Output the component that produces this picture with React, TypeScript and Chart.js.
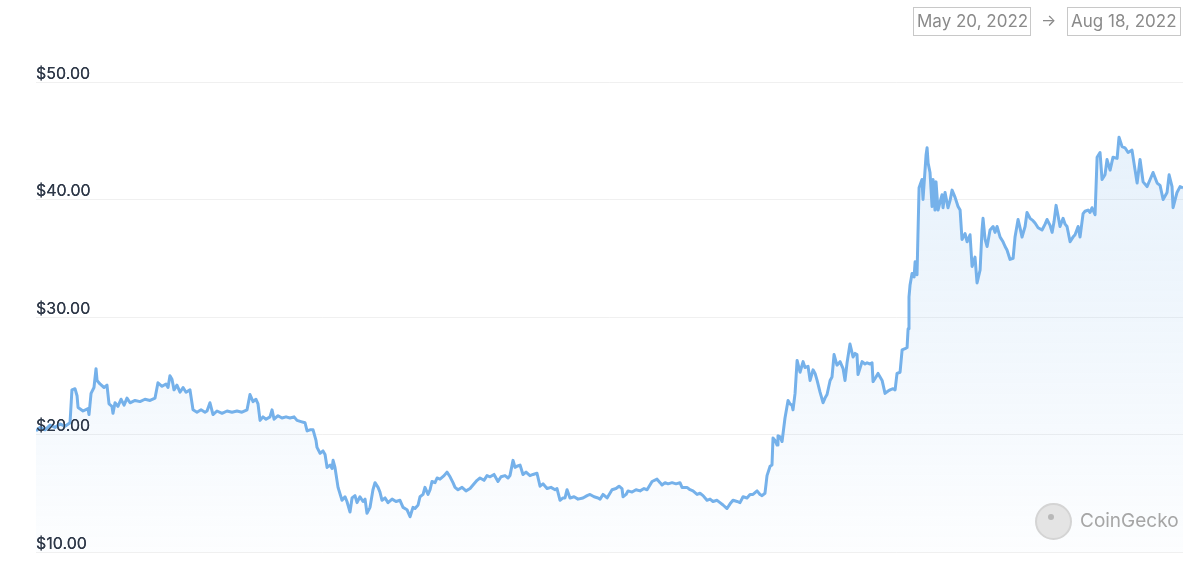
import React, { useEffect, useRef } from "react";
import { Chart, registerables } from "chart.js";

Chart.register(...registerables);

// Days since May 20, 2022 (00:00)
const days: number[] = [
  0.0, 0.31, 0.71, 1.1, 1.49, 1.88, 2.28, 2.67, 2.82, 3.06, 3.22, 3.3, 3.69, 4.08, 4.16, 4.32, 4.55, 4.71, 4.79, 5.02,
  5.34, 5.57, 5.73, 5.96, 6.04, 6.2, 6.43, 6.67, 6.91, 7.14, 7.38, 7.77, 8.16, 8.55, 8.95, 9.34, 9.57, 9.89, 10.2, 10.36,
  10.51, 10.67, 10.83, 11.06, 11.3, 11.54, 11.77, 12.08, 12.32, 12.63, 12.95, 13.26, 13.42, 13.65, 13.89, 14.2, 14.6, 14.99, 15.38, 15.77,
  16.16, 16.56, 16.79, 17.03, 17.26, 17.42, 17.58, 17.81, 18.05, 18.36, 18.52, 18.68, 18.99, 19.3, 19.62, 19.93, 20.25, 20.48, 20.79, 21.11,
  21.27, 21.5, 21.74, 21.97, 22.05, 22.29, 22.52, 22.68, 22.84, 23.07, 23.23, 23.31, 23.46, 23.7, 24.01, 24.25, 24.4, 24.64, 24.8, 25.03,
  25.19, 25.42, 25.66, 25.82, 25.97, 26.21, 26.44, 26.6, 26.84, 26.99, 27.15, 27.39, 27.62, 27.94, 28.25, 28.56, 28.8, 29.11, 29.35, 29.58,
  29.74, 29.98, 30.13, 30.37, 30.52, 30.76, 30.92, 31.07, 31.31, 31.47, 31.7, 32.02, 32.25, 32.49, 32.72, 32.88, 33.11, 33.43, 33.74, 34.06,
  34.29, 34.61, 34.84, 35.15, 35.39, 35.63, 35.94, 36.25, 36.49, 36.8, 37.04, 37.19, 37.43, 37.59, 37.74, 37.98, 38.21, 38.45, 38.76, 39.0,
  39.31, 39.55, 39.78, 40.1, 40.41, 40.73, 40.88, 41.12, 41.35, 41.51, 41.67, 41.9, 42.22, 42.53, 42.92, 43.24, 43.47, 43.79, 44.1, 44.26,
  44.49, 44.81, 45.2, 45.51, 45.75, 45.98, 46.06, 46.3, 46.45, 46.77, 47.08, 47.4, 47.71, 47.95, 48.34, 48.73, 48.97, 49.12, 49.36, 49.59,
  49.91, 50.22, 50.53, 50.69, 51.08, 51.32, 51.55, 51.87, 52.1, 52.34, 52.65, 52.89, 53.12, 53.44, 53.67, 53.91, 54.22, 54.46, 54.69, 55.01,
  55.24, 55.48, 55.79, 56.03, 56.26, 56.58, 56.81, 56.97, 57.2, 57.36, 57.6, 57.75, 57.83, 57.99, 58.15, 58.22, 58.38, 58.54, 58.77, 59.01,
  59.17, 59.32, 59.4, 59.56, 59.72, 59.95, 60.19, 60.34, 60.58, 60.74, 60.97, 61.13, 61.29, 61.52, 61.76, 61.91, 62.07, 62.31, 62.46, 62.62,
  62.85, 63.09, 63.33, 63.48, 63.64, 63.87, 64.11, 64.27, 64.42, 64.5, 64.82, 65.05, 65.21, 65.44, 65.6, 65.68, 65.91, 66.07, 66.39, 66.62,
  66.86, 67.01, 67.25, 67.41, 67.56, 67.8, 67.96, 68.19, 68.35, 68.43, 68.5, 68.58, 68.74, 68.9, 68.98, 69.13, 69.29, 69.52, 69.6, 69.84,
  69.92, 70.0, 70.15, 70.31, 70.39, 70.54, 70.62, 70.78, 70.94, 71.09, 71.17, 71.33, 71.56, 71.72, 71.88, 72.11, 72.35, 72.51, 72.66, 72.9,
  73.06, 73.29, 73.45, 73.68, 73.84, 74.08, 74.23, 74.31, 74.47, 74.63, 74.86, 75.1, 75.25, 75.41, 75.65, 75.88, 76.04, 76.19, 76.43, 76.67,
  76.82, 77.06, 77.21, 77.37, 77.61, 77.76, 78.0, 78.23, 78.39, 78.63, 78.94, 79.18, 79.33, 79.57, 79.73, 79.88, 80.04, 80.2, 80.35, 80.59,
  80.75, 80.9, 81.14, 81.37, 81.53, 81.77, 81.92, 82.16, 82.31, 82.55, 82.71, 82.86, 83.1, 83.26, 83.49, 83.65, 83.88, 84.04, 84.28, 84.51,
  84.83, 84.98, 85.22, 85.45, 85.69, 86.0, 86.24, 86.4, 86.63, 86.87, 87.18, 87.42, 87.65, 87.97, 88.2, 88.44, 88.75, 88.91, 89.14, 89.22,
  89.53, 89.77, 90.0,
];

// Price in USD
const prices: number[] = [
  20.3, 20.6, 20.4, 20.8, 20.6, 20.9, 20.7, 21.0, 23.8, 23.9, 23.3, 22.3, 22.0, 22.2, 21.7, 23.5, 24.0, 25.6, 24.6, 24.3,
  24.0, 24.2, 22.6, 22.4, 21.8, 22.7, 22.4, 23.0, 22.5, 23.1, 22.7, 22.9, 22.8, 23.0, 22.9, 23.1, 24.4, 24.1, 24.3, 24.0,
  25.0, 24.7, 23.8, 24.2, 23.6, 24.0, 23.6, 23.8, 22.1, 21.9, 22.1, 21.9, 22.0, 22.7, 21.7, 22.0, 21.8, 22.0, 21.9, 22.0,
  21.9, 22.1, 23.4, 22.8, 23.0, 22.6, 21.2, 21.5, 21.3, 21.5, 22.1, 21.3, 21.6, 21.4, 21.5, 21.4, 21.5, 21.2, 21.1, 21.0,
  20.3, 20.4, 20.4, 19.5, 18.9, 18.4, 18.6, 18.3, 17.2, 17.4, 17.1, 17.8, 17.2, 15.5, 14.4, 14.7, 14.3, 13.4, 14.6, 14.8,
  14.2, 14.7, 14.3, 14.5, 13.3, 13.8, 15.3, 15.9, 15.5, 15.1, 14.4, 14.6, 14.2, 14.5, 14.3, 14.4, 13.8, 13.6, 13.0, 13.8,
  13.7, 14.0, 14.7, 14.9, 15.5, 14.9, 15.3, 16.0, 15.9, 16.3, 16.2, 16.5, 16.8, 16.4, 15.9, 15.5, 15.3, 15.5, 15.2, 15.4,
  15.7, 16.1, 16.3, 16.1, 16.5, 16.4, 16.6, 16.0, 16.4, 16.5, 16.3, 16.5, 17.8, 17.2, 17.3, 17.4, 16.6, 16.8, 16.5, 16.6,
  16.7, 15.6, 15.8, 15.4, 15.5, 15.3, 15.4, 14.4, 14.6, 14.6, 15.3, 14.6, 14.7, 14.5, 14.6, 14.8, 14.9, 14.7, 14.6, 14.5,
  14.9, 14.6, 15.3, 15.4, 15.6, 15.4, 14.7, 14.9, 15.2, 15.1, 15.3, 15.2, 15.4, 15.3, 16.0, 16.2, 15.9, 15.7, 15.9, 15.8,
  15.9, 15.8, 15.9, 15.5, 15.5, 15.3, 15.2, 14.9, 15.0, 14.8, 14.4, 14.5, 14.3, 14.4, 14.2, 14.0, 13.7, 14.1, 14.4, 14.3,
  14.2, 14.7, 14.6, 14.9, 14.9, 15.2, 14.9, 14.8, 15.0, 16.5, 17.3, 17.4, 19.7, 19.5, 19.1, 19.9, 19.8, 19.4, 21.4, 22.9,
  22.6, 22.5, 22.1, 23.5, 26.3, 25.3, 26.2, 25.7, 25.8, 24.6, 25.5, 25.2, 24.6, 23.6, 22.7, 23.1, 23.4, 24.6, 24.9, 26.8,
  25.9, 26.2, 25.6, 24.6, 26.1, 27.7, 26.6, 26.9, 26.8, 25.1, 26.2, 26.0, 26.1, 26.0, 26.1, 24.5, 24.9, 25.2, 24.6, 23.5,
  23.7, 23.8, 23.9, 23.8, 25.2, 25.3, 27.2, 27.3, 27.4, 29.0, 31.7, 32.7, 33.7, 33.4, 34.7, 33.6, 41.0, 41.7, 40.0, 43.8,
  44.4, 43.1, 42.3, 39.4, 41.7, 39.1, 41.5, 39.1, 39.8, 40.4, 39.3, 40.6, 39.3, 39.9, 40.8, 40.2, 39.4, 39.1, 36.6, 37.1,
  36.4, 37.0, 34.3, 35.1, 32.9, 34.0, 37.4, 38.4, 36.6, 36.0, 37.4, 37.7, 37.2, 37.7, 36.8, 36.4, 36.0, 35.7, 34.9, 35.0,
  36.8, 38.3, 37.6, 36.8, 37.7, 38.9, 38.4, 38.2, 38.0, 37.6, 37.4, 37.9, 38.3, 37.8, 37.2, 38.1, 39.5, 38.6, 37.7, 38.4,
  37.9, 37.7, 36.4, 36.8, 37.0, 37.7, 36.8, 38.8, 39.0, 39.1, 38.9, 39.3, 38.7, 43.6, 44.0, 41.7, 42.1, 43.4, 42.5, 43.6,
  43.5, 45.3, 44.5, 44.4, 44.0, 44.2, 42.5, 41.4, 43.4, 41.5, 41.1, 41.7, 42.3, 41.4, 41.2, 40.0, 40.6, 42.1, 41.1, 39.3,
  40.6, 41.1, 41.0,
];

const yTicks: number[] = [10, 20, 30, 40, 50];
const startLabel = "May 20, 2022";
const endLabel = "Aug 18, 2022";
const brand = "CoinGecko";

const FONT = "Inter, 'Liberation Sans', Arial, sans-serif";

// Draw the y-axis labels again on top of the line (as in the reference)
const labelsOnTop = {
  id: "labelsOnTop",
  afterDatasetsDraw(chart: any) {
    const y = chart.scales.y;
    if (y && typeof y.drawLabels === "function") {
      chart.ctx.save();
      y.drawLabels(chart.chartArea);
      chart.ctx.restore();
    }
  },
};

export default function App() {
  const canvasRef = useRef<HTMLCanvasElement | null>(null);

  useEffect(() => {
    const canvas = canvasRef.current;
    if (!canvas) return;
    const points = days.map((d, i) => ({ x: d, y: prices[i] }));
    const chart = new Chart(canvas, {
      type: "line",
      data: {
        datasets: [
          {
            data: points,
            borderColor: "#75b1ea",
            borderWidth: 3,
            pointRadius: 0,
            tension: 0,
            borderJoinStyle: "round",
            fill: "start",
            backgroundColor: (ctx: any) => {
              const c = ctx.chart;
              const area = c.chartArea;
              if (!area) return "rgba(117,177,234,0.1)";
              const g = c.ctx.createLinearGradient(0, area.top, 0, area.bottom);
              g.addColorStop(0, "rgba(117,177,234,0.2)");
              g.addColorStop(1, "rgba(117,177,234,0.02)");
              return g;
            },
          },
        ],
      },
      options: {
        animation: false,
        responsive: true,
        maintainAspectRatio: false,
        layout: { padding: { left: 36, right: 17, top: 82, bottom: 35 } },
        plugins: { legend: { display: false }, tooltip: { enabled: false } },
        scales: {
          x: { type: "linear", min: 0, max: 90, display: false },
          y: {
            min: 10,
            max: 50,
            afterBuildTicks: (scale: any) => {
              scale.ticks = yTicks.map((v) => ({ value: v }));
            },
            afterFit: (scale: any) => {
              scale.width = 0;
            },
            border: { display: false },
            grid: { color: "rgba(0,0,0,0.06)", drawTicks: false, lineWidth: 1 },
            ticks: {
              mirror: true,
              padding: 0,
              labelOffset: -8,
              color: "#2e3848",
              font: { family: FONT, size: 16 },
              callback: (v: any) => "$" + Number(v).toFixed(2),
            },
          },
        },
      },
      plugins: [labelsOnTop],
    });
    return () => chart.destroy();
  }, []);

  const boxStyle: React.CSSProperties = {
    position: "absolute",
    top: 7,
    height: 29,
    border: "1px solid #c8c8c8",
    color: "#8a8a8a",
    fontFamily: FONT,
    fontSize: 17,
    lineHeight: "27px",
    padding: "0 3px",
    boxSizing: "border-box",
    whiteSpace: "nowrap",
  };

  return (
    <div style={{ position: "absolute", left: 0, top: 0, width: 1200, height: 587, background: "#fff", overflow: "hidden" }}>
      <canvas ref={canvasRef} style={{ position: "absolute", left: 0, top: 0, width: 1200, height: 587 }} />
      <div style={{ ...boxStyle, left: 913, width: 118 }}>{startLabel}</div>
      <div style={{ position: "absolute", left: 1041, top: 7, lineHeight: "27px", fontSize: 16, color: "#8a8a8a", fontFamily: FONT }}>→</div>
      <div style={{ ...boxStyle, left: 1067, width: 114 }}>{endLabel}</div>
      <div style={{ position: "absolute", left: 1035, top: 503, width: 37, height: 37, borderRadius: "50%", background: "#e4e4e4", border: "2px solid #d4d4d4", boxSizing: "border-box" }}>
        <div style={{ position: "absolute", left: 11, top: 9, width: 6, height: 6, borderRadius: "50%", background: "#b8b8b8" }} />
      </div>
      <div style={{ position: "absolute", left: 1080, top: 507, fontSize: 19, lineHeight: "28px", color: "#a6a6a6", fontFamily: FONT }}>{brand}</div>
    </div>
  );
}
